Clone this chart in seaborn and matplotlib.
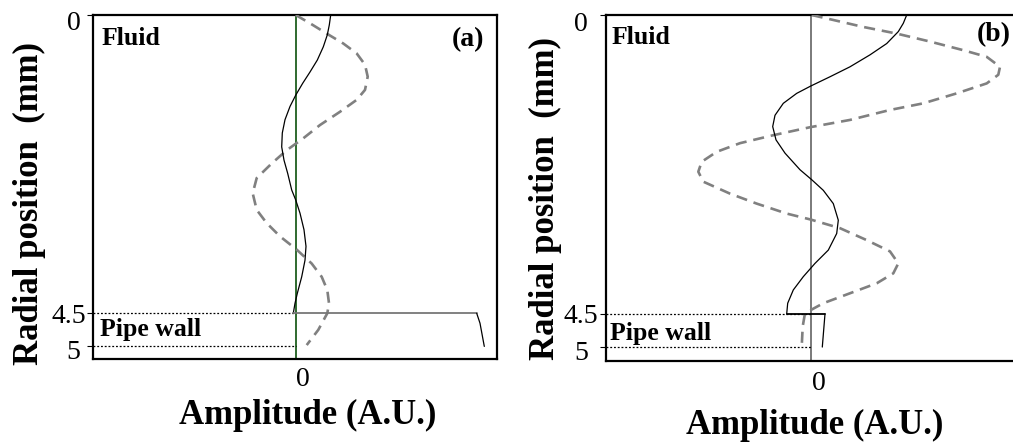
import matplotlib
matplotlib.use("Agg")
import matplotlib.pyplot as plt
import matplotlib.transforms as mtransforms
import pandas as pd
import seaborn as sns

# ---------------- panel (a) ----------------
a_solid_amp = [0.35, 0.336, 0.316, 0.276, 0.216, 0.143, 0.07, 0.0, -0.057, -0.107,
               -0.134, -0.14, -0.117, -0.08, -0.04, 0.0, 0.043, 0.083, 0.103, 0.093,
               0.06, 0.016, -0.007, -0.024]
a_solid_r = [0.0, 0.15, 0.30, 0.48, 0.68, 0.86, 1.03, 1.21, 1.38, 1.58,
             1.78, 1.99, 2.19, 2.39, 2.64, 2.79, 2.99, 3.24, 3.49, 3.70,
             3.95, 4.20, 4.35, 4.50]
a_step_amp = [-0.024, 1.81]
a_wall_amp = [1.81, 1.843, 1.886]
a_wall_r = [4.5, 4.65, 5.0]
a_dash_amp = [0.0, 0.143, 0.31, 0.476, 0.61, 0.693, 0.72, 0.693, 0.61, 0.443,
              0.243, 0.076, -0.09, -0.24, -0.39, -0.43, -0.39, -0.29, -0.157, 0.01,
              0.16, 0.26, 0.316, 0.333, 0.316, 0.226, 0.11]
a_dash_r = [0.0, 0.125, 0.28, 0.43, 0.58, 0.75, 0.93, 1.13, 1.28, 1.46,
            1.66, 1.86, 2.04, 2.24, 2.46, 2.69, 2.94, 3.14, 3.34, 3.54,
            3.75, 3.95, 4.15, 4.35, 4.50, 4.75, 4.98]

# ---------------- panel (b) ----------------
b_solid_amp = [0.96, 0.926, 0.876, 0.76, 0.593, 0.393, 0.193, 0.0, -0.14, -0.274,
               -0.357, -0.38, -0.347, -0.257, -0.107, 0.01, 0.126, 0.226, 0.276, 0.26,
               0.176, 0.043, -0.074, -0.174, -0.23, -0.24]
b_solid_r = [0.0, 0.125, 0.25, 0.43, 0.60, 0.78, 0.93, 1.07, 1.18, 1.33,
             1.51, 1.68, 1.88, 2.08, 2.33, 2.48, 2.64, 2.84, 3.09, 3.29,
             3.54, 3.74, 3.94, 4.14, 4.34, 4.50]
b_step_amp = [-0.24, 0.143]
b_wall_amp = [0.143, 0.116]
b_wall_r = [4.5, 5.0]
b_dash_amp = [0.01, 0.226, 0.526, 0.86, 1.193, 1.526, 1.76, 1.893, 1.876, 1.76,
              1.46, 1.126, 0.793, 0.393, -0.007, -0.374, -0.707, -0.94, -1.09, -1.124,
              -1.074, -0.807, -0.54, -0.24, 0.0, 0.293, 0.56, 0.793, 0.876, 0.826,
              0.66, 0.393, 0.126, -0.057, -0.08, -0.09]
b_dash_r = [0.0, 0.075, 0.18, 0.28, 0.40, 0.53, 0.63, 0.78, 0.90, 1.03,
            1.18, 1.33, 1.43, 1.58, 1.69, 1.81, 1.93, 2.06, 2.21, 2.36,
            2.51, 2.69, 2.84, 2.99, 3.08, 3.21, 3.39, 3.56, 3.74, 3.89,
            4.04, 4.19, 4.34, 4.49, 4.69, 5.0]

wall_inner = 4.5
wall_outer = 5.0
r_ticks = [0, 4.5, 5]
r_tick_labels = ["0", "4.5", "5"]
amp_ticks = [0]
amp_tick_labels = ["0"]
panel_tags = ["(a)", "(b)"]

sns.set_theme(style="white")
plt.rcParams["font.family"] = ["Liberation Serif", "DejaVu Serif"]
plt.rcParams.update({
    "text.color": "black",
    "axes.labelcolor": "black",
    "xtick.color": "black",
    "ytick.color": "black",
    "axes.edgecolor": "black",
})

W, H = 1013, 448
fig = plt.figure(figsize=(W / 100, H / 100), dpi=100)


def frac_box(left, top, right, bottom):
    return [left / W, 1 - bottom / H, (right - left) / W, (bottom - top) / H]


ax_a = fig.add_axes(frac_box(93, 15, 497, 359))
ax_b = fig.add_axes(frac_box(606, 15, 1015.5, 361))


def line(ax, amp, r, **kw):
    df = pd.DataFrame({"amp": amp, "r": r})
    sns.lineplot(data=df, x="amp", y="r", sort=False, estimator=None, ax=ax, **kw)


def px_shift(dx, dy):
    return mtransforms.ScaledTranslation(dx / 100, dy / 100, fig.dpi_scale_trans)


def draw_panel(ax, xlim, ylim, zero_color, solid, step, step_color, wall, dash,
               tag, tag_x, tick_pad, label_xy, ylabel_xy, fluid_x, fluid_y, tag_y,
               pipe_y, xtick_shift, mid_shift):
    ax.set_xlim(*xlim)
    ax.set_ylim(*ylim)
    # zero-amplitude reference
    ax.axvline(0, color=zero_color, lw=1.3, zorder=1)
    # fluid / wall interfaces
    ax.hlines([wall_inner, wall_outer], xlim[0], 0, colors="black",
              linestyles=(0, (1.5, 1.5)), lw=0.9, zorder=2)
    dash_amp, dash_r = dash
    line(ax, dash_amp, dash_r, color="#808080", lw=1.9,
         linestyle=(0, (4.2, 2.6)), zorder=3)
    line(ax, solid[0], solid[1], color="black", lw=0.9, zorder=4)
    line(ax, step, [wall_inner] * len(step), color=step_color, lw=1.3, zorder=4)
    line(ax, wall[0], wall[1], color="black", lw=0.9, zorder=4)

    ax.set_xticks(amp_ticks, amp_tick_labels)
    ax.set_yticks(r_ticks, r_tick_labels)
    ax.tick_params(axis="x", length=0, pad=tick_pad[0], labelsize=20)
    ax.tick_params(axis="y", left=True, length=4, width=0.8, pad=tick_pad[1],
                   labelsize=20, color="black")
    for lab in ax.get_xticklabels():
        lab.set_transform(lab.get_transform() + px_shift(xtick_shift, 0))
    ylabs = ax.get_yticklabels()
    ylabs[0].set_transform(ylabs[0].get_transform() + px_shift(0, -6))
    ylabs[1].set_transform(ylabs[1].get_transform() + px_shift(mid_shift, 0))
    ylabs[2].set_transform(ylabs[2].get_transform() + px_shift(0, -3))

    ax.set_xlabel("Amplitude (A.U.)", fontsize=25, fontweight="bold")
    ax.xaxis.label.set_va("center")
    ax.xaxis.set_label_coords(*label_xy)
    ax.set_ylabel("Radial position  (mm)", fontsize=25, fontweight="bold")
    ax.yaxis.label.set_va("center")
    ax.yaxis.set_label_coords(*ylabel_xy)

    for s in ax.spines.values():
        s.set_color("black")
        s.set_linewidth(1.6)
        s.set_visible(True)
    ax.grid(False)

    btf = mtransforms.blended_transform_factory(ax.transAxes, ax.transData)
    ax.text(fluid_x, fluid_y, "Fluid", transform=btf, fontsize=18.5,
            fontweight="bold", ha="left", va="baseline")
    ax.text(fluid_x - 0.004, pipe_y, "Pipe wall", transform=btf, fontsize=18.5,
            fontweight="bold", ha="left", va="baseline")
    ax.text(tag_x, tag_y, tag, transform=btf,
            fontsize=20, fontweight="bold", ha="right", va="baseline")


draw_panel(ax_a, (-2.027, 2.013), (5.19, 0), "#1f5f1f",
           (a_solid_amp, a_solid_r), a_step_amp, "#777777", (a_wall_amp, a_wall_r),
           (a_dash_amp, a_dash_r), panel_tags[0], 0.968, (6, 5),
           (0.532, -0.164), (-0.158, 0.4506), 0.022, 0.45, 0.47, 4.84, 7, 6)

draw_panel(ax_b, (-2.047, 2.048), (5.21, 0), "#707070",
           (b_solid_amp, b_solid_r), b_step_amp, "black", (b_wall_amp, b_wall_r),
           (b_dash_amp, b_dash_r), panel_tags[1], 0.989, (7.5, 9),
           (0.510, -0.185), (-0.149, 0.4697), 0.014, 0.43, 0.40, 4.89, 8, 10)

fig.savefig("out.png", dpi=100)
